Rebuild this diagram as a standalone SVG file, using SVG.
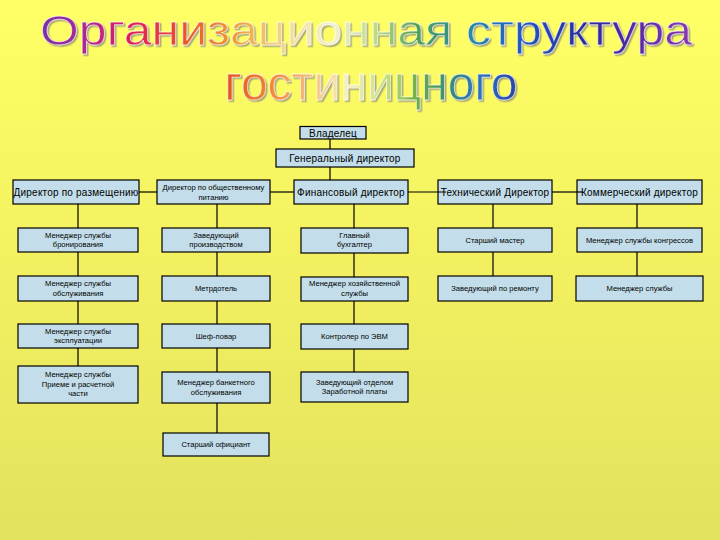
<svg xmlns="http://www.w3.org/2000/svg" width="720" height="540" viewBox="0 0 720 540">
<defs>
<linearGradient id="bg" x1="0" y1="0" x2="0" y2="1">
<stop offset="0" stop-color="#FFFF66"/>
<stop offset="0.5" stop-color="#F2F060"/>
<stop offset="1" stop-color="#E2E25E"/>
</linearGradient>
<linearGradient id="t1" gradientUnits="userSpaceOnUse" x1="-272" y1="0" x2="272" y2="0">
<stop offset="0" stop-color="#7A2FA8"/>
<stop offset="0.07" stop-color="#B0288E"/>
<stop offset="0.14" stop-color="#E02050"/>
<stop offset="0.22" stop-color="#E8542A"/>
<stop offset="0.3" stop-color="#F0A030"/>
<stop offset="0.38" stop-color="#F5DC90"/>
<stop offset="0.45" stop-color="#F2F2D0"/>
<stop offset="0.52" stop-color="#B8D880"/>
<stop offset="0.58" stop-color="#50A050"/>
<stop offset="0.66" stop-color="#2A8AA0"/>
<stop offset="0.74" stop-color="#2458C0"/>
<stop offset="0.84" stop-color="#2A2A98"/>
<stop offset="0.92" stop-color="#5A2AA0"/>
<stop offset="1" stop-color="#8A3AB0"/>
</linearGradient>
<linearGradient id="t2" gradientUnits="userSpaceOnUse" x1="220" y1="0" x2="522" y2="0">
<stop offset="0" stop-color="#E04A20"/>
<stop offset="0.15" stop-color="#F08030"/>
<stop offset="0.3" stop-color="#F5C080"/>
<stop offset="0.42" stop-color="#F5F0C0"/>
<stop offset="0.55" stop-color="#C8E080"/>
<stop offset="0.65" stop-color="#70B040"/>
<stop offset="0.75" stop-color="#3A9070"/>
<stop offset="0.87" stop-color="#2A70C0"/>
<stop offset="1" stop-color="#2A3AA0"/>
</linearGradient>
<filter id="shadow" x="-5%" y="-20%" width="110%" height="140%">
<feDropShadow dx="1.6" dy="1.6" stdDeviation="0.4" flood-color="#8C8C78" flood-opacity="0.75"/>
</filter>
</defs>
<style>
.title{font-family:"Liberation Sans",Arial,sans-serif;text-anchor:middle;stroke:#ffffff;stroke-width:0.8;stroke-opacity:0.7}
.l1{font-size:42px}
.l2{font-size:48px}
.box rect{fill:#C3DEEA;stroke:#000;stroke-width:1.2}
.box text{font-family:"Liberation Sans",Arial,sans-serif;fill:#000;text-anchor:middle}
.big{font-size:10px;letter-spacing:0.2px}
.sm{font-size:7.6px}
.conn line{stroke:#000;stroke-width:1.2}
</style>
<rect x="0" y="0" width="720" height="540" fill="url(#bg)"/>

<g id="title" filter="url(#shadow)">
<text class="title l1" transform="translate(366,45) scale(1.19,1)" x="0" y="0" fill="url(#t1)">Организационная структура</text>
<text class="title l2" x="371" y="100" fill="url(#t2)">гостиницного</text>
</g>

<g id="owner" class="box"><rect x="300" y="126.5" width="66" height="12.5"/><text class="big" x="333" y="136.5">Владелец</text></g>
<g id="gd" class="box"><rect x="276" y="149" width="138" height="18"/><text class="big" x="345" y="161.5">Генеральный директор</text></g>

<g id="d1" class="box"><rect x="13" y="180" width="126" height="24"/><text class="big" x="76" y="195.5">Директор по размещению</text></g>
<g id="d2" class="box"><rect x="157" y="180" width="113" height="24"/><text class="sm" x="213.5" y="189.5">Директор по общественному</text><text class="sm" x="213.5" y="200">питанию</text></g>
<g id="d3" class="box"><rect x="294" y="180" width="114" height="24"/><text class="big" x="351" y="195.5">Финансовый директор</text></g>
<g id="d4" class="box"><rect x="438" y="180" width="114" height="24"/><text class="big" x="495" y="195.5">Технический Директор</text></g>
<g id="d5" class="box"><rect x="577" y="180" width="125" height="24"/><text class="big" x="639.5" y="195.5">Коммерческий директор</text></g>

<g id="c1r2" class="box"><rect x="18" y="228" width="120" height="24"/><text class="sm" x="78" y="237.5">Менеджер службы</text><text class="sm" x="78" y="247">бронирования</text></g>
<g id="c1r3" class="box"><rect x="18" y="276" width="120" height="25"/><text class="sm" x="78" y="286">Менеджер службы</text><text class="sm" x="78" y="295.5">обслуживания</text></g>
<g id="c1r4" class="box"><rect x="18" y="324" width="120" height="24"/><text class="sm" x="78" y="333.5">Менеджер службы</text><text class="sm" x="78" y="343">эксплуатации</text></g>
<g id="c1r5" class="box"><rect x="18" y="366" width="120" height="37"/><text class="sm" x="78" y="377">Менеджер службы</text><text class="sm" x="78" y="386.5">Приеме и расчетной</text><text class="sm" x="78" y="396">части</text></g>

<g id="c2r2" class="box"><rect x="162" y="228" width="108" height="24"/><text class="sm" x="216" y="237.5">Заведующий</text><text class="sm" x="216" y="247">производством</text></g>
<g id="c2r3" class="box"><rect x="162" y="276" width="108" height="25"/><text class="sm" x="216" y="291">Метрдотель</text></g>
<g id="c2r4" class="box"><rect x="162" y="324" width="108" height="24"/><text class="sm" x="216" y="339">Шеф-повар</text></g>
<g id="c2r5" class="box"><rect x="162" y="372" width="108" height="31"/><text class="sm" x="216" y="385">Менеджер банкетного</text><text class="sm" x="216" y="394.5">обслуживания</text></g>
<g id="c2r6" class="box"><rect x="163" y="433" width="106" height="23"/><text class="sm" x="216" y="447">Старший официант</text></g>

<g id="c3r2" class="box"><rect x="301" y="228" width="107" height="25"/><text class="sm" x="354.5" y="237.5">Главный</text><text class="sm" x="354.5" y="247">бухгалтер</text></g>
<g id="c3r3" class="box"><rect x="301" y="277" width="107" height="24"/><text class="sm" x="354.5" y="286">Менеджер хозяйственной</text><text class="sm" x="354.5" y="295.5">службы</text></g>
<g id="c3r4" class="box"><rect x="301" y="324" width="107" height="25"/><text class="sm" x="354.5" y="339">Контролер по ЭВМ</text></g>
<g id="c3r5" class="box"><rect x="301" y="372" width="107" height="30"/><text class="sm" x="354.5" y="384.5">Заведующий отделом</text><text class="sm" x="354.5" y="394">Заработной платы</text></g>

<g id="c4r2" class="box"><rect x="438" y="228" width="114" height="24"/><text class="sm" x="495" y="243">Старший мастер</text></g>
<g id="c4r3" class="box"><rect x="438" y="276" width="114" height="25"/><text class="sm" x="495" y="291">Заведующий по ремонту</text></g>

<g id="c5r2" class="box"><rect x="577" y="228" width="125" height="24"/><text class="sm" x="639.5" y="243">Менеджер службы конгрессов</text></g>
<g id="c5r3" class="box"><rect x="576" y="276" width="127" height="25"/><text class="sm" x="639.5" y="291">Менеджер службы</text></g>

<g id="connectors" class="conn">
<line x1="330" y1="139" x2="330" y2="149"/>
<line x1="330" y1="167" x2="330" y2="180"/>
<line x1="139" y1="192" x2="157" y2="192"/>
<line x1="270" y1="192" x2="294" y2="192"/>
<line x1="408" y1="192" x2="446" y2="192"/>
<line x1="552" y1="192" x2="583" y2="192"/>
<line x1="78" y1="204" x2="78" y2="228"/>
<line x1="78" y1="252" x2="78" y2="276"/>
<line x1="78" y1="301" x2="78" y2="324"/>
<line x1="78" y1="348" x2="78" y2="366"/>
<line x1="217" y1="204" x2="217" y2="228"/>
<line x1="217" y1="252" x2="217" y2="276"/>
<line x1="217" y1="301" x2="217" y2="324"/>
<line x1="217" y1="348" x2="217" y2="372"/>
<line x1="217" y1="403" x2="217" y2="433"/>
<line x1="354" y1="204" x2="354" y2="228"/>
<line x1="354" y1="253" x2="354" y2="277"/>
<line x1="354" y1="301" x2="354" y2="324"/>
<line x1="354" y1="349" x2="354" y2="372"/>
<line x1="493" y1="204" x2="493" y2="228"/>
<line x1="493" y1="252" x2="493" y2="276"/>
<line x1="637" y1="204" x2="637" y2="228"/>
<line x1="637" y1="252" x2="637" y2="276"/>
</g>
</svg>
